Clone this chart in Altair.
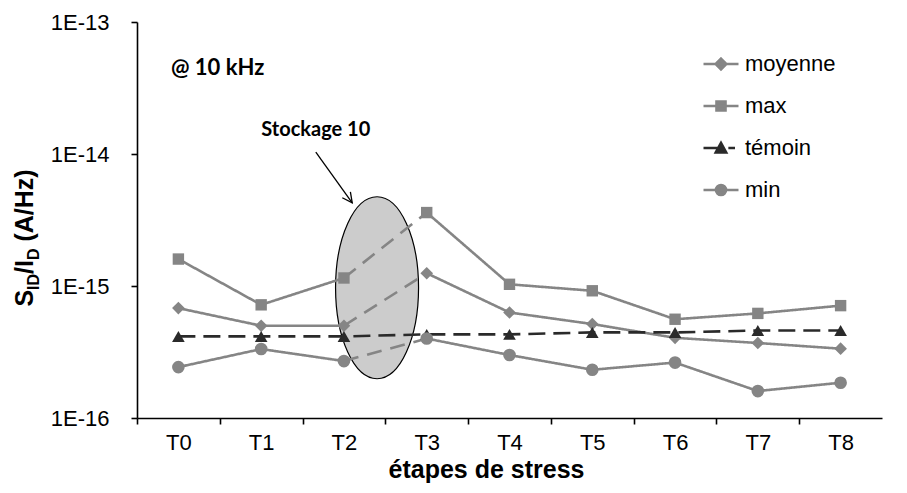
import altair as alt
import pandas as pd

# ---------------- data ----------------
stages = ["T0", "T1", "T2", "T3", "T4", "T5", "T6", "T7", "T8"]
series_names = ["moyenne", "max", "témoin", "min"]
moyenne = [6.8e-16, 5.0e-16, 5.0e-16, 1.25e-15, 6.3e-16, 5.15e-16, 4.05e-16, 3.7e-16, 3.35e-16]
max_vals = [1.6e-15, 7.2e-16, 1.15e-15, 3.6e-15, 1.03e-15, 9.2e-16, 5.6e-16, 6.2e-16, 7.1e-16]
temoin = [4.15e-16, 4.15e-16, 4.15e-16, 4.3e-16, 4.3e-16, 4.45e-16, 4.45e-16, 4.6e-16, 4.6e-16]
min_vals = [2.43e-16, 3.33e-16, 2.7e-16, 4.0e-16, 3.0e-16, 2.32e-16, 2.63e-16, 1.6e-16, 1.85e-16]

y_ticks = [1e-16, 1e-15, 1e-14, 1e-13]

# annotations (data coordinates: stage index / value)
ellipse_x = [2.4]
ellipse_y = [9.7e-16]
arrow_x = [1.66]
arrow_y = [1.035e-14]
arrow_x2 = [2.10]
arrow_y2 = [4.26e-15]
note_x = [1.66]
note_y = [1.52e-14]
note_text = ["Stockage 10"]
freq_x = [-0.09]
freq_y = [4.49e-14]
freq_text = ["@ 10 kHz"]

# ---------------- tables ----------------
values = {"moyenne": moyenne, "max": max_vals, "témoin": temoin, "min": min_vals}
pts = pd.DataFrame([
    {"idx": i, "val": v, "series": s}
    for s, arr in values.items() for i, v in enumerate(arr)
])
seg_rows = []
for s, arr in values.items():
    if s == "témoin":
        for i, v in enumerate(arr):
            seg_rows.append(dict(idx=i, val=v, series=s, seg=s + "all", style="tdash"))
    else:
        for name, rng, style in [("a", range(0, 3), "solid"), ("b", range(2, 4), "dash"), ("c", range(3, 9), "solid")]:
            for i in rng:
                seg_rows.append(dict(idx=i, val=arr[i], series=s, seg=s + name, style=style))
segs = pd.DataFrame(seg_rows)

GRAY = "#858585"
DARK = "#2a2a2a"
color_scale = alt.Scale(domain=series_names, range=[GRAY, GRAY, DARK, GRAY])

W, H = 745, 396
half_band = W / 9 / 2

x_enc = alt.X(
    "idx:Q",
    scale=alt.Scale(domain=[-0.5, 8.5], nice=False, zero=False),
    axis=alt.Axis(
        values=list(range(9)),
        labelExpr="['T0','T1','T2','T3','T4','T5','T6','T7','T8'][datum.value]",
        tickOffset=-half_band,
        labelOffset=half_band,
        title="étapes de stress",
        titleFont="Liberation Sans",
        titleFontSize=25,
        titleFontWeight="bold",
        titleColor="black",
        titleX=349,
        titleAlign="center",
        titleAnchor="start",
        labelPadding=8,
        titlePadding=4,
    ),
)
y_enc = alt.Y(
    "val:Q",
    scale=alt.Scale(type="log", domain=[1e-16, 1e-13], nice=False),
    axis=alt.Axis(
        values=y_ticks,
        labelExpr="'1E-' + round(-log(datum.value)/LN10)",
        title=None,
        labelPadding=22,
    ),
)

# legend symbols: line + marker (35 px wide symbols)
circ = ("M 0 -0.29 C 0.16 -0.29 0.29 -0.16 0.29 0 C 0.29 0.16 0.16 0.29 0 0.29 "
        "C -0.16 0.29 -0.29 0.16 -0.29 0 C -0.29 -0.16 -0.16 -0.29 0 -0.29 Z")
legend_paths = [
    "M -1 0 L 1 0 M 0 -0.31 L 0.31 0 L 0 0.31 L -0.31 0 Z",
    "M -1 0 L 1 0 M -0.26 -0.26 L 0.26 -0.26 L 0.26 0.26 L -0.26 0.26 Z",
    "M -1 0 L 0.05 0 M 0.42 0 L 0.8 0 M -0.3 0.25 L 0 -0.3 L 0.3 0.25 Z",
    "M -1 0 L 1 0 " + circ,
]
leg = alt.Legend(
    title=None, orient="none", legendX=565, legendY=23, symbolSize=1225,
    symbolStrokeWidth=2.5, labelFont="Liberation Sans", labelFontSize=22,
    labelColor="black", labelOffset=5, rowPadding=12, padding=0,
)
legend_layer = alt.Chart(pts).transform_filter("false").mark_point(
    filled=True, opacity=1, size=1225, strokeWidth=2.5
).encode(
    x=x_enc, y=y_enc,
    color=alt.Color("series:N", scale=color_scale, legend=leg),
    stroke=alt.Stroke("series:N", scale=color_scale, legend=leg),
    shape=alt.Shape("series:N", scale=alt.Scale(domain=series_names, range=legend_paths), legend=leg),
)

# ellipse annotation (behind the lines)
ell_path = ("M 0 -1 C 0.252 -1 0.456 -0.552 0.456 0 C 0.456 0.552 0.252 1 0 1 "
            "C -0.252 1 -0.456 0.552 -0.456 0 C -0.456 -0.552 -0.252 -1 0 -1 Z")
ellipse = alt.Chart(pd.DataFrame({"idx": ellipse_x, "val": ellipse_y})).mark_point(
    shape=ell_path, size=182 * 182, filled=True, fill="#cccccc", stroke="black",
    strokeWidth=1.2, opacity=1
).encode(x=x_enc, y=y_enc)

lines = alt.Chart(segs).mark_line(strokeWidth=2.6).encode(
    x=x_enc, y=y_enc,
    color=alt.Color("series:N", scale=color_scale),
    detail="seg:N",
    strokeDash=alt.StrokeDash(
        "style:N",
        scale=alt.Scale(domain=["solid", "dash", "tdash"], range=[[1, 0], [15, 9], [17, 8]]),
        legend=None,
    ),
)

marker = {"moyenne": ("diamond", 160), "max": ("square", 130), "témoin": ("triangle-up", 160), "min": ("circle", 160)}
point_layers = []
for s in series_names:
    shp, sz = marker[s]
    point_layers.append(
        alt.Chart(pts).transform_filter(alt.datum.series == s).mark_point(
            filled=True, opacity=1, shape=shp, size=sz
        ).encode(x=x_enc, y=y_enc, color=alt.Color("series:N", scale=color_scale))
    )

# arrow
arrow_df = pd.DataFrame({"idx": arrow_x, "val": arrow_y, "idx2": arrow_x2, "val2": arrow_y2})
arrow_line = alt.Chart(arrow_df).mark_rule(color="black", strokeWidth=1.3).encode(
    x=x_enc, y=y_enc, x2="idx2:Q", y2="val2:Q"
)
arrow_head = alt.Chart(pd.DataFrame({"idx": arrow_x2, "val": arrow_y2})).mark_point(
    shape="M -0.5 -1 L 0 0 L 0.5 -1", size=400, filled=False, color="black",
    strokeWidth=1.3, angle=324, opacity=1
).encode(x=x_enc, y=y_enc)

note = alt.Chart(pd.DataFrame({"idx": note_x, "val": note_y, "t": note_text})).mark_text(
    font="Lato", fontWeight="bold", fontSize=20, color="black", align="center", baseline="middle"
).encode(x=x_enc, y=y_enc, text="t:N")
freq = alt.Chart(pd.DataFrame({"idx": freq_x, "val": freq_y, "t": freq_text})).mark_text(
    font="Lato", fontWeight="bold", fontSize=22, color="black", align="left", baseline="middle"
).encode(x=x_enc, y=y_enc, text="t:N")

# y-axis title with subscripts: S_ID/I_D (A/Hz)
title_pieces = [("S", 25, 0, 284.6), ("ID", 16, 6, 267.9), ("/I", 25, 0, 251.9),
                ("D", 16, 6, 238.0), ("(A/Hz)", 25, 0, 219.6)]
dummy = pd.DataFrame({"a": [0]})
title_layers = []
for txt, fs, shift, ypos in title_pieces:
    title_layers.append(
        alt.Chart(dummy).mark_text(
            text=txt, font="Liberation Sans", fontWeight="bold", fontSize=fs, color="black",
            angle=270, align="left", baseline="alphabetic"
        ).encode(x=alt.value(-104 + shift), y=alt.value(ypos))
    )

chart = alt.layer(
    legend_layer, ellipse, lines, *point_layers, arrow_line, arrow_head, note, freq, *title_layers
).properties(
    width=W, height=H,
    autosize=alt.AutoSizeParams(type="none"),
    padding={"left": 129, "top": 14, "right": 17, "bottom": 67},
).configure_view(stroke=None).configure_axis(
    grid=False, domainColor="black", domainWidth=1.6, tickColor="black", tickWidth=1.6,
    tickSize=6, labelFont="Liberation Sans", labelFontSize=22, labelColor="black",
)

chart.save("out.html", embed_options={"renderer": "svg", "actions": False})
